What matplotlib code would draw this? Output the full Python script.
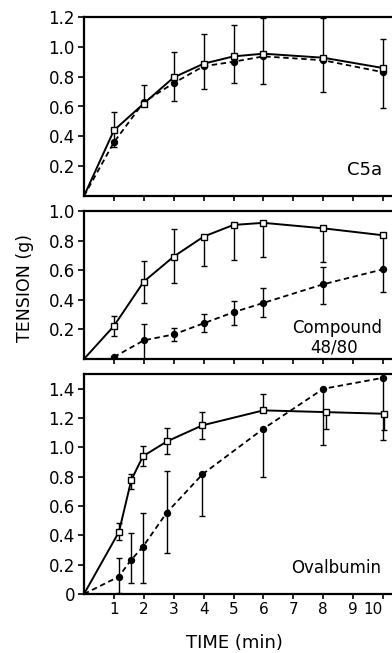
import matplotlib
matplotlib.use("Agg")
import matplotlib.pyplot as plt
import numpy as np

# ---------------- data ----------------
# Panel 1: C5a
c5a_t = [0, 1, 2, 3, 4, 5, 6, 8, 10]
c5a_open = [0, 0.44, 0.62, 0.795, 0.887, 0.936, 0.954, 0.927, 0.858]
c5a_open_lo = [0, 0.33, 0.62, 0.635, 0.72, 0.757, 0.749, 0.70, 0.59]
c5a_open_hi = [0, 0.562, 0.745, 0.965, 1.088, 1.144, 1.19, 1.19, 1.055]
c5a_filled = [0, 0.36, 0.63, 0.757, 0.87, 0.90, 0.936, 0.91, 0.83]

# Panel 2: Compound 48/80
cmp_t = [0, 1, 2, 3, 4, 5, 6, 8, 10]
cmp_open = [0, 0.223, 0.523, 0.692, 0.827, 0.906, 0.92, 0.883, 0.836]
cmp_open_lo = [0, 0.155, 0.381, 0.516, 0.628, 0.67, 0.686, 0.653, 0.606]
cmp_open_hi = [0, 0.29, 0.662, 0.876, 0.827, 0.906, 0.92, 0.883, 0.836]
cmp_tf = [1, 2, 3, 4, 5, 6, 8, 10]
cmp_filled = [0.013, 0.126, 0.166, 0.241, 0.316, 0.379, 0.505, 0.606]
cmp_filled_lo = [0.013, 0.0, 0.12, 0.182, 0.229, 0.285, 0.369, 0.45]
cmp_filled_hi = [0.013, 0.234, 0.212, 0.302, 0.39, 0.48, 0.625, 0.606]

# Panel 3: Ovalbumin
ova_to = [0, 1.17, 1.58, 1.97, 2.78, 3.96, 6.0, 8.1, 10.03]
ova_open = [0, 0.424, 0.776, 0.939, 1.041, 1.150, 1.252, 1.240, 1.229]
ova_open_lo = [0, 0.367, 0.719, 0.871, 0.952, 1.06, 1.252, 1.127, 1.12]
ova_open_hi = [0, 0.485, 0.816, 1.007, 1.131, 1.24, 1.365, 1.240, 1.229]
ova_tf = [0, 1.16, 1.57, 1.97, 2.76, 3.96, 6.0, 8.0, 10.0]
ova_filled = [0, 0.118, 0.231, 0.322, 0.553, 0.816, 1.127, 1.399, 1.474]
ova_filled_lo = [0, 0.01, 0.073, 0.075, 0.277, 0.53, 0.798, 1.014, 1.048]
ova_filled_hi = [0, 0.243, 0.413, 0.549, 0.839, 0.816, 1.127, 1.399, 1.474]

x_ticks = list(range(1, 11))
x_ticklabels = [str(v) for v in x_ticks]
p1_yticks = [0.2, 0.4, 0.6, 0.8, 1.0, 1.2]
p2_yticks = [0.2, 0.4, 0.6, 0.8, 1.0]
p3_yticks = [0, 0.2, 0.4, 0.6, 0.8, 1.0, 1.2, 1.4]

# ---------------- figure ----------------
plt.rcParams['font.family'] = ['DejaVu Sans']
W, H = 392, 653
fig = plt.figure(figsize=(W / 100, H / 100), dpi=100)


def px_axes(left, top, right, bottom):
    return fig.add_axes([left / W, 1 - bottom / H, (right - left) / W, (bottom - top) / H])


ax1 = px_axes(84, 17, 392, 196)
ax2 = px_axes(84, 211, 392, 359)
ax3 = px_axes(84, 374, 392, 594)


def errbars(ax, t, y, lo, hi):
    t = np.asarray(t, float)
    y = np.asarray(y, float)
    lo = np.asarray(lo, float)
    hi = np.asarray(hi, float)
    m = t > 0
    ax.errorbar(t[m], y[m], yerr=[y[m] - lo[m], hi[m] - y[m]], fmt='none',
                ecolor='black', elinewidth=1.0, capsize=2.2, capthick=1.0, zorder=3)


def style(ax, ymax, yticks, labelx=False):
    ax.set_xlim(0, 10.3)
    ax.set_ylim(0, ymax)
    for s in ['left', 'bottom', 'top']:
        ax.spines[s].set_linewidth(1.6)
    ax.spines['right'].set_visible(False)
    ax.set_xticks(x_ticks)
    ax.set_yticks(yticks)
    ax.set_yticklabels(['0' if v == 0 else f'{v:.1f}' for v in yticks], fontsize=12)
    ax.tick_params(axis='x', direction='out', length=3.5, width=1.2,
                   labelbottom=labelx, labelsize=11, pad=2)
    ax.tick_params(axis='y', direction='out', length=4.5, width=1.2, pad=2)
    if labelx:
        ax.set_xticklabels(x_ticklabels)


dash = (0, (3, 2))
sq = dict(marker='s', ms=4.5, mfc='white', mec='black', mew=1.0, ls='none', zorder=5)
ci = dict(marker='o', ms=4.3, mfc='black', mec='black', ls='none', zorder=5)

# Panel 1
ax1.plot(c5a_t, c5a_filled, color='black', lw=1.3, ls=dash, zorder=2)
ax1.plot(c5a_t, c5a_open, color='black', lw=1.4, zorder=2)
errbars(ax1, c5a_t, c5a_open, c5a_open_lo, c5a_open_hi)
ax1.plot(c5a_t[1:], c5a_filled[1:], **ci)
ax1.plot(c5a_t[1:], c5a_open[1:], **sq)
style(ax1, 1.2, p1_yticks)

# Panel 2
ax2.plot(cmp_tf, cmp_filled, color='black', lw=1.3, ls=dash, zorder=2)
ax2.plot(cmp_t, cmp_open, color='black', lw=1.4, zorder=2)
errbars(ax2, cmp_t, cmp_open, cmp_open_lo, cmp_open_hi)
errbars(ax2, cmp_tf, cmp_filled, cmp_filled_lo, cmp_filled_hi)
ax2.plot(cmp_tf, cmp_filled, **ci)
ax2.plot(cmp_t[1:], cmp_open[1:], **sq)
style(ax2, 1.0, p2_yticks)

# Panel 3
ax3.plot(ova_tf, ova_filled, color='black', lw=1.3, ls=dash, zorder=2)
ax3.plot(ova_to, ova_open, color='black', lw=1.4, zorder=2)
errbars(ax3, ova_to, ova_open, ova_open_lo, ova_open_hi)
errbars(ax3, ova_tf, ova_filled, ova_filled_lo, ova_filled_hi)
ax3.plot(ova_tf[1:], ova_filled[1:], **ci)
ax3.plot(ova_to[1:], ova_open[1:], **sq)
style(ax3, 1.5, p3_yticks, labelx=True)
# keep the last tick label ("10") inside the picture
ax3.get_xticklabels()[-1].set_horizontalalignment('right')
ax3.get_xticklabels()[-1].set_x(10.3)


def ftext(x, y, s, **kw):
    fig.text(x / W, 1 - y / H, s, **kw)


ftext(382, 170, 'C5a', ha='right', va='center', fontsize=13)
ftext(382, 328, 'Compound', ha='right', va='center', fontsize=12)
ftext(334, 348, '48/80', ha='center', va='center', fontsize=12)
ftext(381, 568, 'Ovalbumin', ha='right', va='center', fontsize=12)
ftext(25, 288, 'TENSION (g)', ha='center', va='center', rotation=90, fontsize=12.5)
ftext(234, 643, 'TIME (min)', ha='center', va='center', fontsize=13)

fig.savefig('out.png', dpi=100)
